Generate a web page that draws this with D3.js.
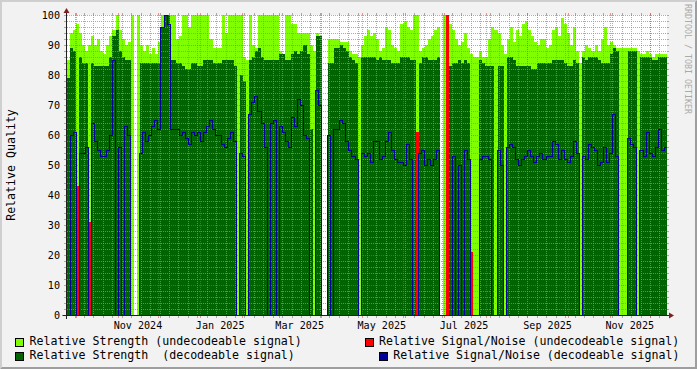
<!DOCTYPE html>
<html><head><meta charset="utf-8">
<script src="https://cdn.jsdelivr.net/npm/d3@7"></script>
<style>
html,body{margin:0;padding:0;background:#F2F2F2;overflow:hidden;}
svg{display:block;}
text{font-family:"DejaVu Sans Mono",monospace;}
</style></head><body>
<svg id="chart" width="697" height="369"></svg>
<script>
// ---- data (one sample every 54 h, starting 2024-09-24 08:00 UTC) ----
const sampleStart = Date.UTC(2024, 8, 24, 8);
const sampleHours = 54;

const undecStrength = [
 85, 94, 95, 97, 94, 90, 88, 90, 93, 90,
 92, 88, 87, 90, 93, 95,100, 95, 92, 90,
 91,100,null,100, 90, 88, 90, 87, 89, 87,
 91,100,100,100,100,100, 92, 93,100,100,
 96,100,100,100,100,100,100, 92, 89, 89,
 89,100, 94,100,100,100,100,100, 86, 85,
100, 90, 89,100,100,100,100,100,100,100,
 88, 87,100,100, 97, 97, 94, 94, 94, 94,
 90, 88, 94, 93,null,null, 92, 92, 92, 92,
 91, 91, 91, 88, 87, 87, 86, 90, 93, 95,
 93, 94, 92, 88, 89, 96, 95, 90, 89, 88,
 97, 98, 96, 95,100,100, 88, 89, 90, 92,
 93, 95, 96,null,100,100, 97, 95, 92, 90,
 91, 94, 89, 87, 86, 86, 88, 86, 86, 92,
 96, 95, 94, 90, 87, 92, 96, 91, 95, 93,
 97, 98, 95, 93, 91, 90, 92, 92, 89, 90,
 95, 96, 93, 99, 97, 94, 90, 96, 88, 84,
 88, 90, 89, 88, 90, 88, 92, 96, 90, 91,
 90, 89, 89, 89, 89, 89, 89, 89, 88, 87,
 87, 88, 87, 86, 87, 87, 87, 87, 87
];
const decStrength = [
 79, 89, 88,  0, 86, 84, 84,  0, 84, 83,
 83, 83, 83, 83, 86, 93, 95, 88, 86, 85,
 85,  0,null, 0, 84, 84, 84, 84, 84, 84,
 84, 96,100,100, 85, 85, 84, 84, 83, 82,
 82, 84, 84, 83, 83, 85, 85, 85, 84, 84,
 84, 85, 85, 85, 85, 83,  0, 80, 78,  0,
 85, 86, 88, 89, 86, 85, 85, 85, 85, 85,
 87, 87, 85, 85, 87, 88, 87, 88, 90, 87,
 62,  0, 93, 93,null,null, 84, 84, 89, 89,
 90, 89, 88, 86, 85, 84,  0, 86, 86, 86,
 86, 86, 85, 86, 85, 85, 85, 84, 84, 84,
 86, 86, 86, 85, 85,  0, 84, 86, 86, 85,
 85, 85, 86,null, 0,  0, 83, 84, 84, 85,
 84, 85, 84,  0,  0,  0, 85, 84, 83, 83,
 83,  0, 83, 83,  0, 86, 86, 85, 83, 83,
 83, 83, 83, 82, 82, 84, 84, 84, 84, 84,
 85, 85, 85, 85, 84, 83, 83, 85, 84,  0,
 86, 85, 86, 86, 86, 85, 84, 84, 84, 87,
 89, 88,  0,  0,  0, 88, 88, 88,  0, 86,
 86, 86, 86, 85, 85, 86, 86, 86, 86
];
const decSN = [
  0, 60, 61,  0, 54, 54, 56,  0, 64, 58,
 55, 53, 53, 55, 60, 85,  0, 56,  0, 63,
 60,  0,  0,  0, 54, 61, 58, 60, 63, 65,
 62, 96,100, 97, 62, 62, 62, 60, 61, 59,
 57, 61, 60, 61, 58, 61, 63, 65, 62, 60,
 60, 57, 56, 59, 61, 58,  0, 54, 53,  0,
 67, 71, 73, 68, 64, 56,  0, 64, 65,  0,
 63, 61, 58, 56, 66, 63, 72, 70, 60, 59,
  0,  0, 75, 70,  0,  0, 60,  0, 62, 62,
 65, 64, 58, 55, 53, 52,  0, 54, 53, 54,
 51, 58, 58, 52, 53, 58, 61, 55, 52, 51,
 51, 50, 57, 52,  0,  0, 54, 55, 50, 52,
 50, 52, 55,  0,  0,  0,  0, 53,  0, 50,
  0, 55, 52,  0,  0,  0, 52, 53, 53, 52,
  0,  0, 55, 50,  0, 56, 57, 56, 52, 50,
 52, 53, 55, 53, 51, 53, 54, 52, 53, 53,
 58, 57, 52, 55, 52, 51, 53, 58, 54,  0,
 53, 52, 57, 56, 55, 50, 51, 56, 51, 54,
 67, 53,  0,  0,  0, 59, 57, 56,  0, 55,
 53, 61, 54, 53, 56, 62, 55, 56, 54
];
// undecodeable S/N only appears at a few samples
const undecSNSample = [3, 7, 115, 125, 133];
const undecSNValue  = [43, 31, 61, 100, 21];

const yTickValues = [0,10,20,30,40,50,60,70,80,90,100];
const xTickLabels = ["Nov 2024","Jan 2025","Mar 2025","May 2025","Jul 2025","Sep 2025","Nov 2025"];
const legendItems = [
  {label:"Relative Strength (undecodeable signal)", color:"#80FF00"},
  {label:"Relative Strength  (decodeable signal)", color:"#006400"},
  {label:"Relative Signal/Noise (undecodeable signal)", color:"#FF0000"},
  {label:"Relative Signal/Noise (decodeable signal)", color:"#00009C"}
];

// ---- layout ----
const W = 697, H = 369;
const X0 = 67, X1 = 667, YTOP = 15, YBOT = 315;
const domainStart = new Date(Date.UTC(2024, 8, 24, 8));
const domainEnd = new Date(Date.UTC(2025, 11, 13, 15));

const svg = d3.select("#chart");
const x = d3.scaleUtc().domain([domainStart, domainEnd]).range([X0, X1]);
const y = d3.scaleLinear().domain([0, 100]).range([YBOT, YTOP]);

// background & 3d border
svg.append("rect").attr("x",0).attr("y",0).attr("width",W).attr("height",H).attr("fill","#F2F2F2");
svg.append("path").attr("d",`M0,${H} L2,${H-2} L2,2 L${W-2},2 L${W},0 L0,0 Z`).attr("fill","#CFCFCF");
svg.append("path").attr("d",`M2,${H-2} L${W-2},${H-2} L${W-2},2 L${W},0 L${W},${H} L0,${H} Z`).attr("fill","#9E9E9E");

// canvas
svg.append("rect").attr("x",X0).attr("y",YTOP).attr("width",X1-X0).attr("height",YBOT-YTOP).attr("fill","#FFFFFF");

svg.append("clipPath").attr("id","plotclip").append("rect")
  .attr("x",X0).attr("y",YTOP-1).attr("width",X1-X0).attr("height",YBOT-YTOP+2);
const plotAreas = svg.append("g").attr("clip-path","url(#plotclip)");

const stepMs = sampleHours*3600*1000;
function stepPoints(vals){
  const pts=[];
  vals.forEach((v,i)=>{
    pts.push({t:new Date(sampleStart+i*stepMs), v:v});
    pts.push({t:new Date(sampleStart+(i+1)*stepMs), v:v});
  });
  return pts;
}
const area = d3.area().defined(d=>d.v!=null).x(d=>x(d.t)).y0(y(0)).y1(d=>y(d.v));
const line = d3.line().defined(d=>d.v!=null).x(d=>x(d.t)).y(d=>y(d.v)+0.5);

const undecSN = decSN.map(()=>null);
undecSNSample.forEach((s,k)=>{ undecSN[s] = undecSNValue[k]; });

plotAreas.append("path").attr("d",area(stepPoints(undecStrength))).attr("fill",legendItems[0].color).attr("shape-rendering","crispEdges");
plotAreas.append("path").attr("d",area(stepPoints(decStrength))).attr("fill",legendItems[1].color).attr("shape-rendering","crispEdges");

// ---- grid ----
const grid = svg.append("g");
const minorCol = "rgba(143,143,143,0.75)", majorCol = "rgba(222,79,79,0.6)";
function hLine(v, col){
  const yy = Math.round(y(v))+0.5;
  grid.append("line").attr("x1",X0).attr("x2",X1).attr("y1",yy).attr("y2",yy)
    .attr("stroke",col).attr("stroke-dasharray","1,1");
  grid.append("line").attr("x1",X0-3).attr("x2",X0).attr("y1",yy).attr("y2",yy).attr("stroke",col);
  grid.append("line").attr("x1",X1).attr("x2",X1+2).attr("y1",yy).attr("y2",yy).attr("stroke",col);
}
function vLine(t, col){
  const xx = Math.round(x(t))+0.5;
  grid.append("line").attr("x1",xx).attr("x2",xx).attr("y1",YTOP).attr("y2",YBOT)
    .attr("stroke",col).attr("stroke-dasharray","1,1");
  grid.append("line").attr("x1",xx).attr("x2",xx).attr("y1",YTOP-2).attr("y2",YTOP).attr("stroke",col);
  grid.append("line").attr("x1",xx).attr("x2",xx).attr("y1",YBOT).attr("y2",YBOT+3).attr("stroke",col);
}
d3.range(2,100,2).filter(v=>v%10!==0).forEach(v=>hLine(v,minorCol));
d3.utcMonday.range(domainStart, domainEnd).forEach(t=>vLine(t,minorCol));
yTickValues.filter(v=>v>0).forEach(v=>hLine(v,majorCol));
d3.utcMonth.range(domainStart, domainEnd).forEach(t=>vLine(t,majorCol));

// ---- signal/noise lines on top of the grid ----
const plotLines = svg.append("g").attr("clip-path","url(#plotclip)");
plotLines.append("path").attr("d",area(stepPoints(undecSN))).attr("fill",legendItems[2].color).attr("shape-rendering","crispEdges");
plotLines.append("path").attr("d",line(stepPoints(decSN))).attr("fill","none").attr("stroke",legendItems[3].color).attr("stroke-width",1).attr("shape-rendering","crispEdges");

// ---- axes ----
svg.append("line").attr("x1",X0-4.5).attr("x2",X1+4).attr("y1",YBOT+0.5).attr("y2",YBOT+0.5).attr("stroke","#1F1F1F");
svg.append("line").attr("x1",X0-0.5).attr("x2",X0-0.5).attr("y1",YBOT+4).attr("y2",YTOP-4).attr("stroke","#1F1F1F");
svg.append("path").attr("d",`M${X1+2},${YBOT-2.5} L${X1+2},${YBOT+3.5} L${X1+7},${YBOT+0.5} Z`).attr("fill","#801F1F");
svg.append("path").attr("d",`M${X0-3.5},${YTOP-2} L${X0+2.5},${YTOP-2} L${X0-0.5},${YTOP-7} Z`).attr("fill","#801F1F");

// y tick labels
svg.append("g").selectAll("text").data(yTickValues).join("text")
  .attr("x",60).attr("y",d=>y(d)+3.8).attr("text-anchor","end")
  .attr("font-size","10.1px").attr("fill","#000").text(d=>d);

// x tick labels (centred mid-month, like rrdtool)
const parseLab = d3.utcParse("%b %Y");
svg.append("g").selectAll("text").data(xTickLabels).join("text")
  .attr("x",d=>x(d3.utcDay.offset(parseLab(d),15))).attr("y",328.6).attr("text-anchor","middle")
  .attr("font-size","10.1px").attr("fill","#000").text(d=>d);

// y axis title
svg.append("text").attr("transform","translate(15.3,165) rotate(-90)").attr("text-anchor","middle")
  .attr("font-size","11.6px").attr("fill","#000").text("Relative Quality");

// watermark
svg.append("text").attr("transform","translate(684.6,4) rotate(90)").attr("text-anchor","start")
  .attr("font-size","8.3px").attr("fill","#AAAAAA").text("RRDTOOL / TOBI OETIKER");

// legend
const legPos = [
  {bx:15, by:338, tx:29.6, ty:344.7},
  {bx:15, by:351.5, tx:29.6, ty:359.2},
  {bx:365, by:338, tx:379, ty:344.7},
  {bx:379.3, by:351.5, tx:393.3, ty:359.2}
];
const leg = svg.append("g");
legendItems.forEach((it,k)=>{
  const p = legPos[k];
  leg.append("rect").attr("x",Math.round(p.bx)+0.5).attr("y",Math.round(p.by)+0.5).attr("width",8).attr("height",8)
    .attr("fill",it.color).attr("stroke","#000").attr("stroke-width",1);
  leg.append("text").attr("x",p.tx).attr("y",p.ty).attr("font-size","11.6px").attr("fill","#000")
    .style("white-space","pre").attr("xml:space","preserve").text(it.label);
});
</script>
</body></html>
